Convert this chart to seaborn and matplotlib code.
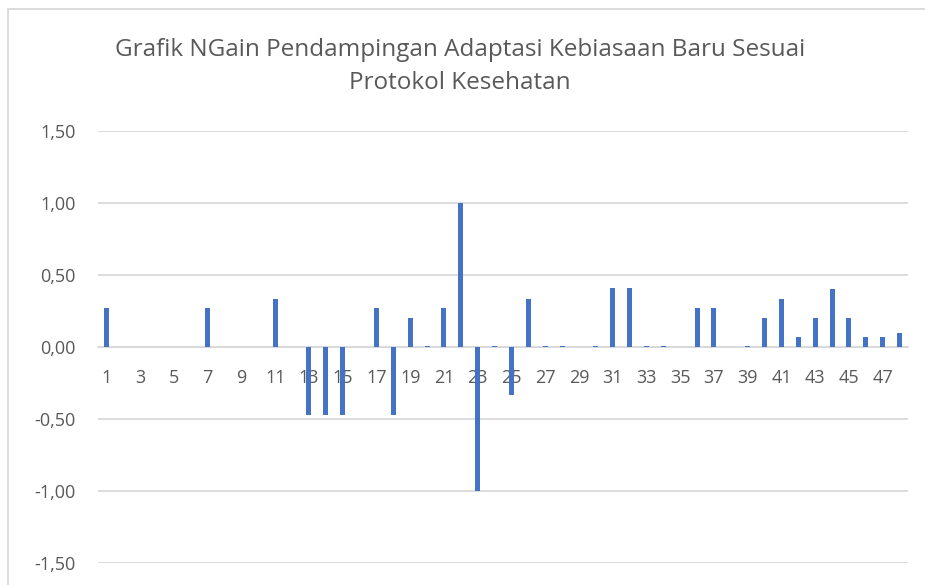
import matplotlib
matplotlib.use("Agg")
import matplotlib.pyplot as plt
import pandas as pd
import seaborn as sns
from matplotlib.lines import Line2D
from matplotlib.ticker import FuncFormatter

# NGain per peserta (1..48)
peserta = list(range(1, 49))
ngain = [0.27, 0, 0, 0, 0, 0, 0.27, 0, 0, 0,
         0.33, 0, -0.47, -0.47, -0.47, 0, 0.27, -0.47, 0.20, 0.01,
         0.27, 1.00, -1.00, 0.01, -0.33, 0.33, 0.01, 0.01, 0, 0.01,
         0.41, 0.41, 0.01, 0.01, 0, 0.27, 0.27, 0, 0.01, 0.20,
         0.33, 0.07, 0.20, 0.40, 0.20, 0.07, 0.07, 0.10]
y_ticks = [-1.5, -1.0, -0.5, 0.0, 0.5, 1.0, 1.5]
title = "Grafik NGain Pendampingan Adaptasi Kebiasaan Baru Sesuai\nProtokol Kesehatan"

df = pd.DataFrame({"peserta": [str(p) for p in peserta], "ngain": ngain})

sns.set_theme(style="white")
plt.rcParams["font.family"] = ["Open Sans", "DejaVu Sans"]

grey_text = "#595959"
grid_col = "#d9d9d9"

fig = plt.figure(figsize=(9.25, 5.85), dpi=100)
ax = fig.add_axes([98 / 925, 22 / 585, 810 / 925, 432 / 585])

sns.barplot(data=df, x="peserta", y="ngain", color="#4472C4", width=0.3,
            saturation=1, linewidth=0, ax=ax)

ax.set_ylim(-1.5, 1.5)
ax.set_xlim(-0.5, len(peserta) - 0.5)
ax.set_yticks(y_ticks)
ax.yaxis.set_major_formatter(FuncFormatter(lambda v, p: f"{v:.2f}".replace(".", ",")))
ax.set_xticks(range(0, len(peserta), 2))
ax.set_xticklabels(df["peserta"][::2])
ax.set_xlabel("")
ax.set_ylabel("")

ax.yaxis.grid(True, color=grid_col, linewidth=1.3)
ax.set_axisbelow(True)
for s in ["top", "right", "left"]:
    ax.spines[s].set_visible(False)
ax.spines["bottom"].set_position(("data", 0))
ax.spines["bottom"].set_color(grid_col)
ax.spines["bottom"].set_linewidth(1.3)
ax.spines["bottom"].set_zorder(0.5)

ax.tick_params(axis="y", length=0, pad=16, labelsize=13, labelcolor=grey_text)
ax.tick_params(axis="x", length=0, pad=16, labelsize=13, labelcolor=grey_text)

fig.text(0.497, 0.886, title, ha="center", va="center", fontsize=17.5,
         color=grey_text, linespacing=1.5)

# chart area border (Excel style)
fig.add_artist(Line2D([8 / 925, 8 / 925], [0, 1 - 9 / 585], color=grid_col, linewidth=1.3))
fig.add_artist(Line2D([8 / 925, 1], [1 - 9 / 585, 1 - 9 / 585], color=grid_col, linewidth=1.3))

fig.savefig("out.png", dpi=100)
